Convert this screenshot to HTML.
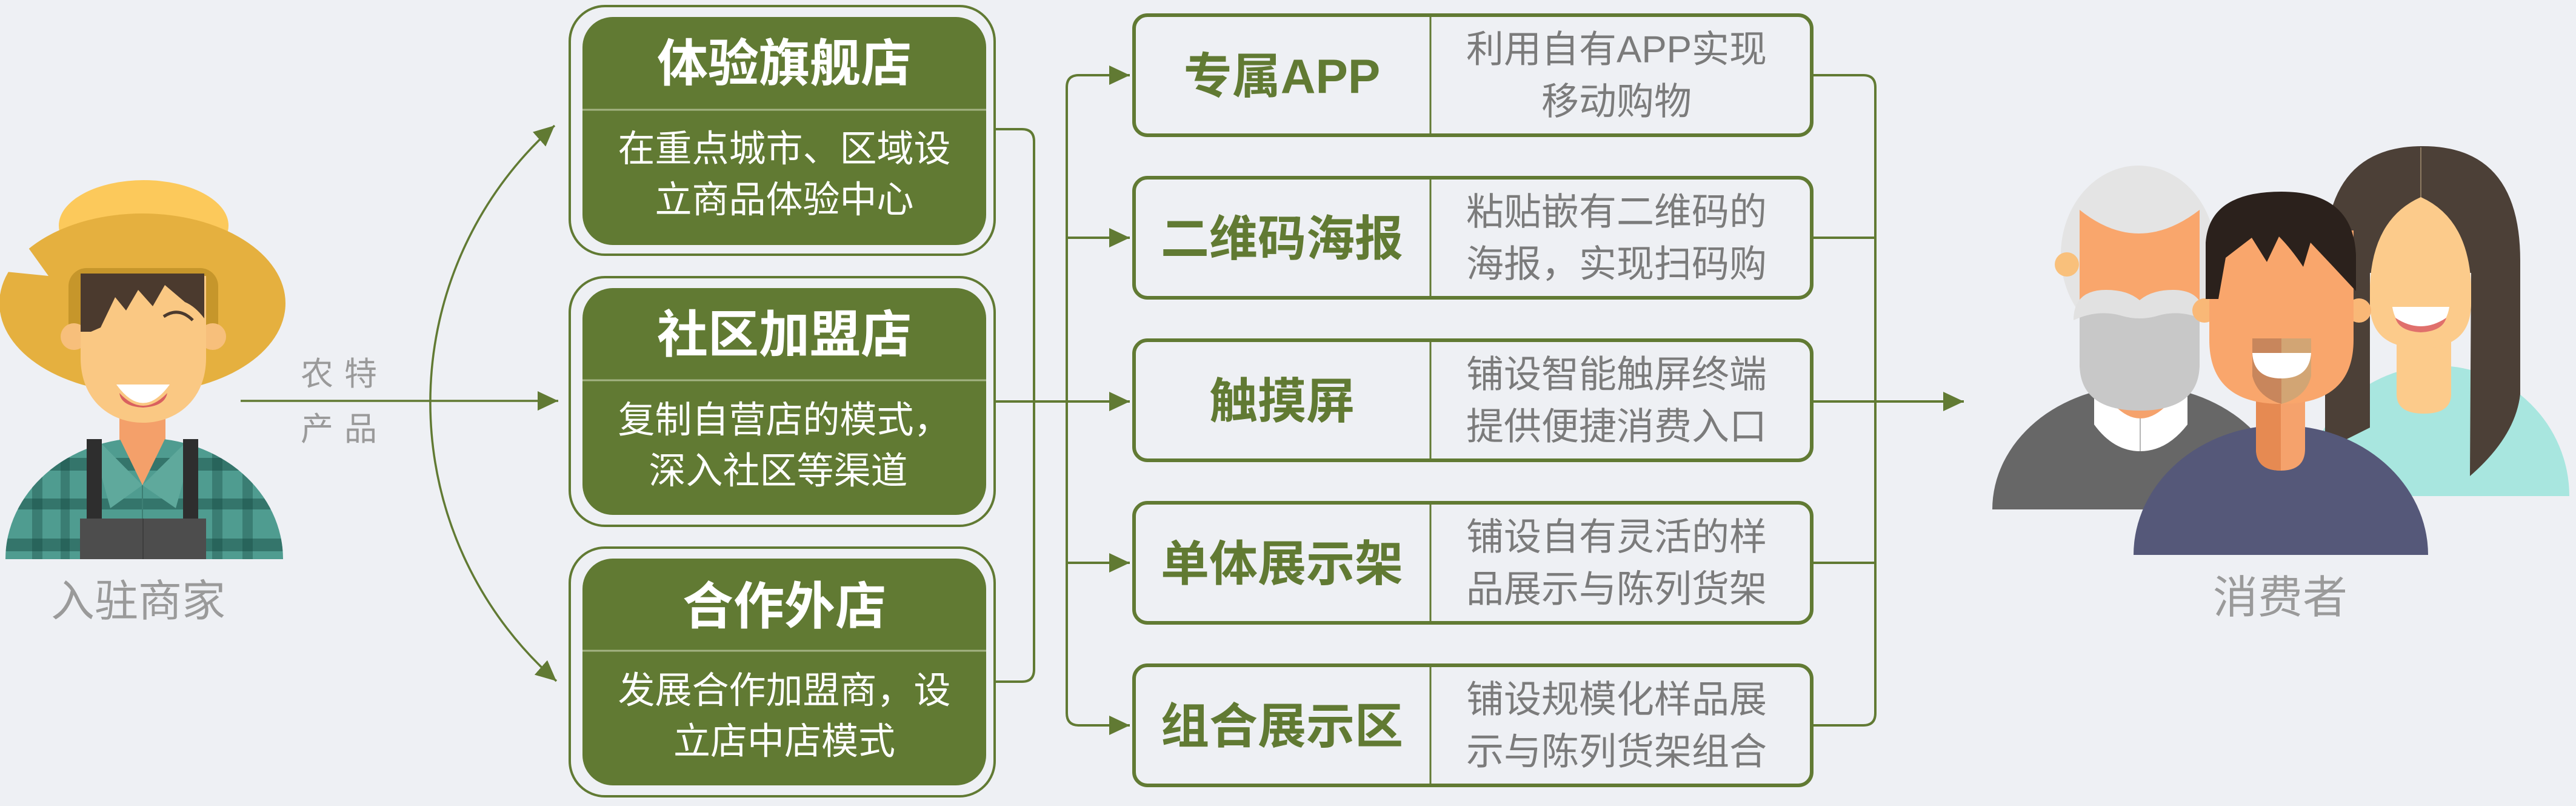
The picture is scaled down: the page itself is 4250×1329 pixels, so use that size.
<!DOCTYPE html>
<html>
<head>
<meta charset="utf-8">
<style>
  html,body{margin:0;padding:0;background:#eef0f4;}
  svg{display:block;}
  .t{font-family:"Liberation Sans","Noto Sans CJK SC",sans-serif;}
</style>
</head>
<body>
<svg width="4250" height="1329" viewBox="0 0 4250 1329" xmlns="http://www.w3.org/2000/svg">
  <defs>
    <marker id="ah" viewBox="0 0 34 32" refX="34" refY="16" markerWidth="34" markerHeight="32" markerUnits="userSpaceOnUse" orient="auto-start-reverse">
      <path d="M0,0 L34,16 L0,32 Z" fill="#617a33"/>
    </marker>
    <clipPath id="farmerBody">
      <path d="M9,922 A229,200 0 0 1 467,922 Z"/>
    </clipPath>
  </defs>

  <rect x="0" y="0" width="4250" height="1329" fill="#eef0f4"/>

  <!-- ================= FARMER ================= -->
  <g>
    <!-- hat crown -->
    <ellipse cx="237" cy="372" rx="140" ry="75" fill="#fcc95b"/>
    <!-- hat brim -->
    <ellipse cx="235" cy="500" rx="236" ry="148" fill="#e5b03f"/>
    <!-- notch -->
    <polygon points="0,380 47,409 80,455 0,447" fill="#eef0f4"/>
    <!-- hat inner band -->
    <rect x="113" y="442" width="247" height="125" rx="30" fill="#c6962b"/>
    <!-- neck -->
    <rect x="197" y="650" width="76" height="95" fill="#f4a06a"/>
    <!-- body plaid -->
    <g clip-path="url(#farmerBody)">
      <rect x="0" y="700" width="480" height="230" fill="#4f9c90"/>
      <rect x="0" y="755" width="480" height="21" fill="rgba(20,70,62,0.45)"/>
      <rect x="0" y="822" width="480" height="18" fill="rgba(20,70,62,0.45)"/>
      <rect x="0" y="888" width="480" height="21" fill="rgba(20,70,62,0.45)"/>
      <rect x="53" y="700" width="17" height="230" fill="rgba(20,70,62,0.35)"/>
      <rect x="100" y="700" width="15" height="230" fill="rgba(20,70,62,0.35)"/>
      <rect x="350" y="700" width="17" height="230" fill="rgba(20,70,62,0.35)"/>
      <rect x="400" y="700" width="17" height="230" fill="rgba(20,70,62,0.35)"/>
    </g>
    <!-- collar -->
    <polygon points="160,724 235,800 182,838 166,780" fill="#5fa99c"/>
    <polygon points="312,724 235,800 290,838 306,780" fill="#5fa99c"/>
    <!-- neck V -->
    <polygon points="197,722 273,722 235,800" fill="#f4a06a"/>
    <line x1="235" y1="800" x2="235" y2="922" stroke="#3d7f74" stroke-width="2"/>
    <!-- suspenders -->
    <rect x="143" y="724" width="25" height="175" fill="#2e2e2e"/>
    <rect x="302" y="724" width="25" height="175" fill="#2e2e2e"/>
    <!-- bib -->
    <rect x="132" y="855" width="208" height="67" fill="#4d4d4d"/>
    <line x1="236" y1="855" x2="236" y2="922" stroke="#3e3e3e" stroke-width="2"/>
    <!-- ears -->
    <circle cx="122" cy="555" r="22" fill="#f7bf7b"/>
    <circle cx="351" cy="555" r="22" fill="#f7bf7b"/>
    <!-- face -->
    <path d="M133,455 L340,455 L340,590 C340,660 290,697 236,697 C182,697 133,660 133,590 Z" fill="#fac883"/>
    <!-- hair -->
    <path d="M133,451 H337 V525 Q322,505 305,498 L272,470 L252,505 L228,478 L208,512 L190,490 L166,540 L150,547 L133,547 Z" fill="#4b3a2e"/>
    <path d="M270,522 Q295,505 318,528" fill="none" stroke="#4b3a2e" stroke-width="5"/>
    <!-- mouth -->
    <path d="M192,634 Q236,695 280,634 Z" fill="#ffffff"/>
    <path d="M197,648 Q236,690 276,648 Q272,670 236,672 Q200,670 197,648 Z" fill="#d9605f"/>
  </g>

  <!-- labels left -->
  <text class="t" x="228" y="992" font-size="72" fill="#9a9a9a" text-anchor="middle" dominant-baseline="central">入驻商家</text>
  <text class="t" x="568" y="617" font-size="54" fill="#9a9a9a" text-anchor="middle" dominant-baseline="central" letter-spacing="18">农特</text>
  <text class="t" x="568" y="708" font-size="54" fill="#9a9a9a" text-anchor="middle" dominant-baseline="central" letter-spacing="18">产品</text>

  <!-- main horizontal arrow -->
  <line x1="397" y1="661" x2="921" y2="661" stroke="#617a33" stroke-width="3.5" marker-end="url(#ah)"/>
  <!-- arc -->
  <path d="M915,207 A611,611 0 0 0 918,1123" fill="none" stroke="#617a33" stroke-width="3.5" marker-start="url(#ah)" marker-end="url(#ah)"/>

  <!-- ================= LEFT BOXES ================= -->
  <g class="t">
    <!-- box 1 -->
    <rect x="940" y="10" width="701" height="410" rx="58" fill="none" stroke="#617a33" stroke-width="4"/>
    <rect x="961" y="28" width="666" height="376" rx="50" fill="#617a33"/>
    <line x1="961" y1="181" x2="1627" y2="181" stroke="#a4b383" stroke-width="3"/>
    <text x="1294" y="105" font-size="84" font-weight="700" fill="#ffffff" text-anchor="middle" dominant-baseline="central">体验旗舰店</text>
    <text x="1294" y="245" font-size="61" fill="#ffffff" text-anchor="middle" dominant-baseline="central">在重点城市、区域设</text>
    <text x="1294" y="329" font-size="61" fill="#ffffff" text-anchor="middle" dominant-baseline="central">立商品体验中心</text>

    <!-- box 2 -->
    <rect x="940" y="457" width="701" height="410" rx="58" fill="none" stroke="#617a33" stroke-width="4"/>
    <rect x="961" y="475" width="666" height="374" rx="50" fill="#617a33"/>
    <line x1="961" y1="627" x2="1627" y2="627" stroke="#a4b383" stroke-width="3"/>
    <text x="1294" y="552" font-size="84" font-weight="700" fill="#ffffff" text-anchor="middle" dominant-baseline="central">社区加盟店</text>
    <text x="1294" y="692" font-size="61" fill="#ffffff" text-anchor="middle" dominant-baseline="central">复制自营店的模式，</text>
    <text x="1284" y="776" font-size="61" fill="#ffffff" text-anchor="middle" dominant-baseline="central">深入社区等渠道</text>

    <!-- box 3 -->
    <rect x="940" y="903" width="701" height="410" rx="58" fill="none" stroke="#617a33" stroke-width="4"/>
    <rect x="961" y="921" width="666" height="374" rx="50" fill="#617a33"/>
    <line x1="961" y1="1073" x2="1627" y2="1073" stroke="#a4b383" stroke-width="3"/>
    <text x="1294" y="1000" font-size="84" font-weight="700" fill="#ffffff" text-anchor="middle" dominant-baseline="central">合作外店</text>
    <text x="1294" y="1138" font-size="61" fill="#ffffff" text-anchor="middle" dominant-baseline="central">发展合作加盟商，设</text>
    <text x="1294" y="1222" font-size="61" fill="#ffffff" text-anchor="middle" dominant-baseline="central">立店中店模式</text>
  </g>

  <!-- ================= MIDDLE CONNECTORS ================= -->
  <g fill="none" stroke="#617a33" stroke-width="4">
    <path d="M1643,213 H1686 Q1706,213 1706,233 V1104 Q1706,1124 1686,1124 H1643"/>
    <line x1="1643" y1="662" x2="1864" y2="662" marker-end="url(#ah)"/>
    <path d="M1790,124 H1780 Q1760,124 1760,144 V1176 Q1760,1196 1780,1196 H1790"/>
    <line x1="1780" y1="124" x2="1864" y2="124" marker-end="url(#ah)"/>
    <line x1="1760" y1="392" x2="1864" y2="392" marker-end="url(#ah)"/>
    <line x1="1760" y1="928" x2="1864" y2="928" marker-end="url(#ah)"/>
    <line x1="1780" y1="1196" x2="1864" y2="1196" marker-end="url(#ah)"/>
  </g>

  <!-- ================= RIGHT BOXES ================= -->
  <g class="t">
    <!-- A -->
    <rect x="1871" y="25" width="1118" height="198" rx="22" fill="none" stroke="#617a33" stroke-width="6"/>
    <line x1="2360" y1="25" x2="2360" y2="223" stroke="#617a33" stroke-width="3"/>
    <text x="2115" y="126" font-size="80" font-weight="700" fill="#617a33" text-anchor="middle" dominant-baseline="central">专属APP</text>
    <text x="2667" y="82" font-size="62" fill="#7b7b7b" text-anchor="middle" dominant-baseline="central">利用自有APP实现</text>
    <text x="2667" y="168" font-size="62" fill="#7b7b7b" text-anchor="middle" dominant-baseline="central">移动购物</text>

    <!-- B -->
    <rect x="1871" y="293" width="1118" height="198" rx="22" fill="none" stroke="#617a33" stroke-width="6"/>
    <line x1="2360" y1="293" x2="2360" y2="491" stroke="#617a33" stroke-width="3"/>
    <text x="2115" y="394" font-size="80" font-weight="700" fill="#617a33" text-anchor="middle" dominant-baseline="central">二维码海报</text>
    <text x="2667" y="350" font-size="62" fill="#7b7b7b" text-anchor="middle" dominant-baseline="central">粘贴嵌有二维码的</text>
    <text x="2667" y="436" font-size="62" fill="#7b7b7b" text-anchor="middle" dominant-baseline="central">海报，实现扫码购</text>

    <!-- C -->
    <rect x="1871" y="561" width="1118" height="198" rx="22" fill="none" stroke="#617a33" stroke-width="6"/>
    <line x1="2360" y1="561" x2="2360" y2="759" stroke="#617a33" stroke-width="3"/>
    <text x="2115" y="662" font-size="80" font-weight="700" fill="#617a33" text-anchor="middle" dominant-baseline="central">触摸屏</text>
    <text x="2667" y="618" font-size="62" fill="#7b7b7b" text-anchor="middle" dominant-baseline="central">铺设智能触屏终端</text>
    <text x="2667" y="704" font-size="62" fill="#7b7b7b" text-anchor="middle" dominant-baseline="central">提供便捷消费入口</text>

    <!-- D -->
    <rect x="1871" y="829" width="1118" height="198" rx="22" fill="none" stroke="#617a33" stroke-width="6"/>
    <line x1="2360" y1="829" x2="2360" y2="1027" stroke="#617a33" stroke-width="3"/>
    <text x="2115" y="930" font-size="80" font-weight="700" fill="#617a33" text-anchor="middle" dominant-baseline="central">单体展示架</text>
    <text x="2667" y="886" font-size="62" fill="#7b7b7b" text-anchor="middle" dominant-baseline="central">铺设自有灵活的样</text>
    <text x="2667" y="972" font-size="62" fill="#7b7b7b" text-anchor="middle" dominant-baseline="central">品展示与陈列货架</text>

    <!-- E -->
    <rect x="1871" y="1097" width="1118" height="198" rx="22" fill="none" stroke="#617a33" stroke-width="6"/>
    <line x1="2360" y1="1097" x2="2360" y2="1295" stroke="#617a33" stroke-width="3"/>
    <text x="2115" y="1198" font-size="80" font-weight="700" fill="#617a33" text-anchor="middle" dominant-baseline="central">组合展示区</text>
    <text x="2667" y="1154" font-size="62" fill="#7b7b7b" text-anchor="middle" dominant-baseline="central">铺设规模化样品展</text>
    <text x="2667" y="1240" font-size="62" fill="#7b7b7b" text-anchor="middle" dominant-baseline="central">示与陈列货架组合</text>
  </g>

  <!-- ================= RIGHT CONNECTORS ================= -->
  <g fill="none" stroke="#617a33" stroke-width="4">
    <path d="M2992,124 H3074 Q3094,124 3094,144 V1176 Q3094,1196 3074,1196 H2992"/>
    <line x1="2992" y1="392" x2="3094" y2="392"/>
    <line x1="2992" y1="928" x2="3094" y2="928"/>
    <line x1="2992" y1="662" x2="3240" y2="662" marker-end="url(#ah)"/>
  </g>

  <!-- ================= CONSUMERS ================= -->
  <!-- old man -->
  <g>
    <path d="M3287,840 A243,204 0 0 1 3773,840 Z" fill="#676767"/>
    <path d="M3455,648 L3609,648 L3609,700 Q3575,744 3531,744 Q3487,744 3455,700 Z" fill="#ffffff"/>
    <line x1="3531" y1="690" x2="3531" y2="744" stroke="#b5b5b5" stroke-width="2"/>
    <path d="M3488,630 L3575,630 L3575,668 Q3531,712 3488,668 Z" fill="#f5a26c"/>
    <ellipse cx="3528" cy="420" rx="128" ry="147" fill="#e4e4e4"/>
    <circle cx="3410" cy="436" r="20" fill="#f9c07b"/>
    <path d="M3431,346 Q3528,424 3629,346 L3629,600 Q3629,650 3528,650 Q3431,650 3431,600 Z" fill="#f9a66c"/>
    <path d="M3431,504 L3629,504 L3629,600 Q3629,677 3530,677 Q3431,677 3431,600 Z" fill="#c8c8c8"/>
    <path d="M3421,528 Q3421,478 3475,478 Q3510,478 3530,495 Q3550,478 3585,478 Q3637,478 3637,528 Q3600,510 3562,520 Q3530,530 3498,520 Q3460,510 3421,528 Z" fill="#e1e1e1"/>
  </g>

  <!-- woman -->
  <g>
    <path d="M3803,818 A218,215 0 0 1 4239,818 Z" fill="#a8e6df"/>
    <path d="M3836,742 L3836,430 Q3836,241 3997,241 Q4158,241 4158,430 L4158,650 Q4150,720 4075,785 L4077,450 L3910,450 L3910,705 Z" fill="#4c4037"/>
    <line x1="3994" y1="243" x2="3994" y2="328" stroke="#8c7a62" stroke-width="2"/>
    <path d="M3954,540 H4044 V650 Q4044,682 3999,682 Q3954,682 3954,650 Z" fill="#fccb8b"/>
    <path d="M3910,470 Q3915,360 3994,325 Q4072,360 4077,470 L4077,500 Q4077,574 3994,574 Q3910,574 3910,500 Z" fill="#fccb8b"/>
    <path d="M3947,506 H4041 Q4035,546 3994,546 Q3953,546 3947,506 Z" fill="#ffffff"/>
    <path d="M3952,524 Q3994,552 4036,524 Q4030,546 3994,548 Q3958,546 3952,524 Z" fill="#e0706c"/>
  </g>

  <!-- young man -->
  <g>
    <path d="M3520,915 A243,214 0 0 1 4006,915 Z" fill="#555879"/>
    <path d="M3722,630 H3803 V740 Q3803,776 3763,776 Q3722,776 3722,740 Z" fill="#f5a26c"/>
    <path d="M3722,630 H3763 V776 Q3722,776 3722,740 Z" fill="#e68a52"/>
    <circle cx="3637" cy="512" r="20" fill="#f9b877"/>
    <circle cx="3892" cy="512" r="20" fill="#f9b877"/>
    <path d="M3645,380 H3883 V560 Q3883,666 3764,666 Q3645,666 3645,560 Z" fill="#f9a66c"/>
    <path d="M3716,558 H3764 V666 Q3725,655 3716,620 Z" fill="#c8865c"/>
    <path d="M3764,558 H3813 V620 Q3805,655 3764,666 Z" fill="#d2a574"/>
    <path d="M3716,582 H3813 Q3810,624 3764,624 Q3718,624 3716,582 Z" fill="#ffffff"/>
    <path d="M3639,493 L3639,400 Q3645,316 3764,316 Q3882,316 3887,420 L3887,480 Q3850,440 3812,400 L3800,440 Q3780,410 3760,390 L3740,432 L3715,392 L3672,425 L3660,493 Z" fill="#2b211c"/>
  </g>

  <text class="t" x="3762" y="985" font-size="74" fill="#9a9a9a" text-anchor="middle" dominant-baseline="central">消费者</text>
</svg>
</body>
</html>
